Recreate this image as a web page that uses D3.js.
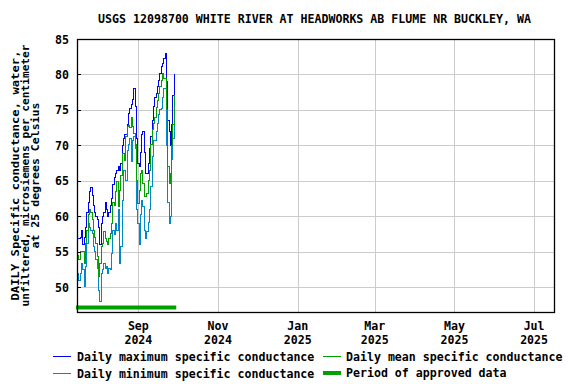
<!DOCTYPE html>
<html><head><meta charset="utf-8">
<script src="https://cdn.jsdelivr.net/npm/d3@7"></script>
<style>
html,body{margin:0;padding:0;background:#fff;}
svg text{font-family:"DejaVu Sans Mono",monospace;font-weight:bold;fill:#000;}
</style></head>
<body><svg id="c" width="576" height="384"></svg>
<script>
const title = "USGS 12098700 WHITE RIVER AT HEADWORKS AB FLUME NR BUCKLEY, WA";
const yTitle = ["DAILY Specific conductance, water,", "unfiltered, microsiemens per centimeter", "at 25 degrees Celsius"];
const startDate = "2024-07-16";
const maxVals = [56.9,56.9,56.9,57,58,56,57,58.5,60.5,62,63.5,64,63,61.5,60.5,60,59.5,58.5,56,59,60,60.5,62,61,60,60.5,61.5,62.5,64.5,65.5,66,66.5,67,66.5,67.5,70,71,71.5,71.5,73,74.5,75.2,75.7,76.5,78,75.5,71,67.5,67,69,71.5,72,69,66,66,67.5,69.5,71.2,73.5,75.5,76.8,77.3,78.3,79.2,80.1,81.1,81.6,82.3,83,79,73.5,72,70,73,77,80];
const meanVals = [55,54.5,53.9,55,55,55,53.4,56.2,58,60.2,60.9,60.5,59.5,58,57,56.2,54.3,51.5,53.4,55.7,56.2,57.8,56.9,56.5,56,56.9,57.6,59,62,61.5,63.5,64.9,61.4,63.7,65.8,68.9,68.9,67.9,71.2,72.6,72.8,72.5,74,72.6,71.7,70.2,65.1,61.8,63.7,66,66.5,64.6,62.8,62.8,63.2,65.1,66.5,70.2,72.2,73.1,74,75.4,76.4,77.3,78.3,79.2,80.1,79.4,79.5,75,67,64.6,66,70,73,77];
const minVals = [52.5,52,51,52,53.4,52.5,50.1,53,56.2,59,58.5,58,57.6,55.8,55,53.9,52.7,49.6,48,52,52.5,53.4,52.7,52.9,52,52.7,52.5,54.8,58,57.5,59,58,60.9,53.4,55.7,62.3,66.5,66.5,65.1,69.3,70.2,71,67.7,70.7,71.2,69.5,61,59,56,60.2,62.3,61.4,58,56.9,57.8,59.2,60.9,64.2,68.4,70.7,70.7,71.9,73.1,74.3,75,75.2,76.8,78,78,70,62,59,60,68,71,74];
const yTicks = [50,55,60,65,70,75,80,85];
const xTickDates = ["2024-09-01","2024-11-01","2025-01-01","2025-03-01","2025-05-01","2025-07-01"];
const xTickMonths = ["Sep","Nov","Jan","Mar","May","Jul"];
const xTickYears = ["2024","2024","2025","2025","2025","2025"];
const approvedPeriod = ["2024-07-16","2024-09-30"];
const legendLabels = ["Daily maximum specific conductance","Daily mean specific conductance","Daily minimum specific conductance","Period of approved data"];

const C = {max:"#0000ff", mean:"#00a000", min:"#0088cc", appr:"#00a000"};
const parse = d3.utcParse("%Y-%m-%d");
const t0 = parse(startDate);
const days = maxVals.map((_,i)=>d3.utcDay.offset(t0,i));

const L=77,R=555,T=39,B=312;
const svg = d3.select("#c");
const x = d3.scaleUtc().domain([parse("2024-07-16"), parse("2025-07-17")]).range([L,R]);
const y = d3.scaleLinear().domain([46.52,85]).range([B,T]);

// grid
svg.append("g").selectAll("line").data(yTicks.filter(v=>v<85)).join("line")
  .attr("x1",L).attr("x2",R).attr("y1",d=>Math.round(y(d))+0.5).attr("y2",d=>Math.round(y(d))+0.5)
  .attr("stroke","#cccccc").attr("stroke-width",1);
svg.append("g").selectAll("line").data(xTickDates).join("line")
  .attr("x1",d=>Math.round(x(parse(d)))+0.5).attr("x2",d=>Math.round(x(parse(d)))+0.5).attr("y1",T).attr("y2",B)
  .attr("stroke","#cccccc").attr("stroke-width",1);

// series
const mk = vals => d3.line().x((d,i)=>x(days[i])).y(d=>y(d)).curve(d3.curveStep)(vals);
[[maxVals,C.max],[minVals,C.min],[meanVals,C.mean]].forEach(([v,c])=>{
  svg.append("path").attr("d",mk(v)).attr("fill","none").attr("stroke",c).attr("stroke-width",1).attr("shape-rendering","crispEdges");
});

// approved bar
svg.append("line").attr("x1",x(parse(approvedPeriod[0]))-1).attr("x2",x(parse(approvedPeriod[1])))
  .attr("y1",307.5).attr("y2",307.5).attr("stroke",C.appr).attr("stroke-width",4);

// frame
svg.append("rect").attr("x",L+0.5).attr("y",T+0.5).attr("width",R-L-1).attr("height",B-T).attr("fill","none").attr("stroke","#000").attr("stroke-width",1.3);

// y ticks
const ya = svg.append("g");
ya.selectAll("line").data(yTicks).join("line")
  .attr("x1",L).attr("x2",L+4).attr("y1",d=>Math.round(y(d))+0.5).attr("y2",d=>Math.round(y(d))+0.5).attr("stroke","#000");
ya.selectAll("text").data(yTicks).join("text")
  .attr("x",69).attr("y",d=>y(d)+4.5).attr("text-anchor","end").attr("font-size","11.6px").text(d=>d);

// x labels
const xa = svg.append("g");
xa.selectAll("text.m").data(xTickDates).join("text").attr("class","m")
  .attr("x",d=>x(parse(d))).attr("y",330).attr("text-anchor","middle").attr("font-size","11.6px").text((d,i)=>xTickMonths[i]);
xa.selectAll("text.y").data(xTickDates).join("text").attr("class","y")
  .attr("x",d=>x(parse(d))).attr("y",344).attr("text-anchor","middle").attr("font-size","11.6px").text((d,i)=>xTickYears[i]);

// title
svg.append("text").attr("x",314.5).attr("y",23).attr("text-anchor","middle").attr("font-size","11.6px").text(title);

// y title
const yt = svg.append("g").attr("transform","translate(0,175.5) rotate(-90)");
const yLens=[250,262,146];
yTitle.forEach((s,i)=>{
  yt.append("text").attr("x",0).attr("y",19+i*10).attr("text-anchor","middle").attr("font-size","11px")
   .attr("textLength",yLens[i]).attr("lengthAdjust","spacingAndGlyphs").text(s);
});

// legend
const lg = [
  {lab:legendLabels[0],c:C.max,w:1,lx:53,ly:356.5,tx:77},
  {lab:legendLabels[1],c:C.mean,w:1,lx:323,ly:356.5,tx:346},
  {lab:legendLabels[2],c:C.min,w:1,lx:53,ly:373.5,tx:77},
  {lab:legendLabels[3],c:C.appr,w:4,lx:323,ly:373,tx:346}
];
lg.forEach(d=>{
  svg.append("line").attr("x1",d.lx).attr("x2",d.lx+18).attr("y1",d.ly).attr("y2",d.ly).attr("stroke",d.c).attr("stroke-width",d.w);
  svg.append("text").attr("x",d.tx).attr("y",d.ly+4).attr("font-size","11.6px").text(d.lab);
});
</script></body></html>
